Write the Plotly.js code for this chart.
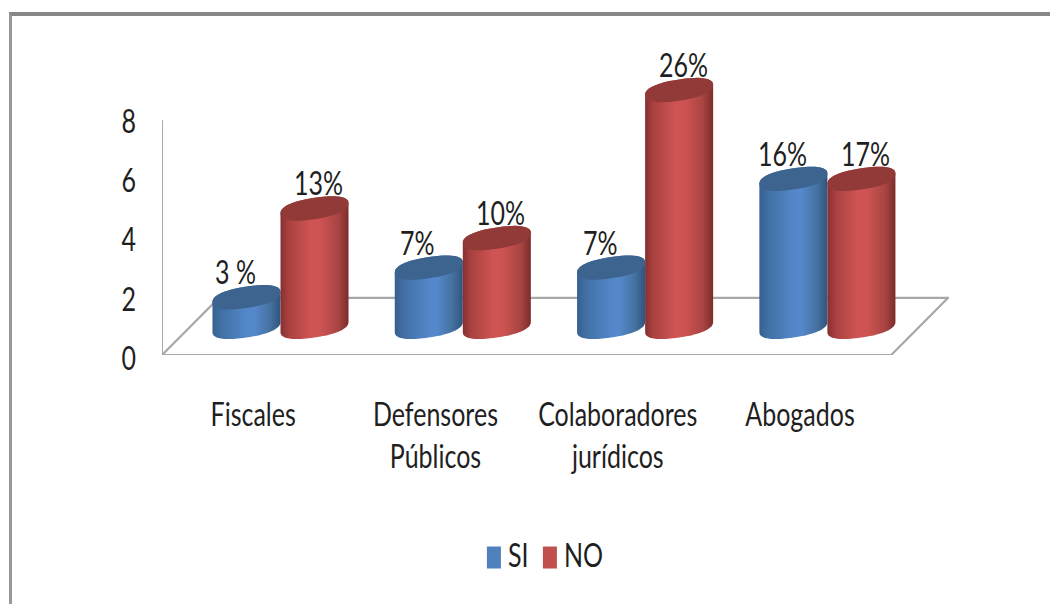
<!DOCTYPE html>
<html>
<head>
<meta charset="utf-8">
<script src="https://cdn.plot.ly/plotly-3.0.0.min.js"></script>
<style>
html,body{margin:0;padding:0;background:#fff;width:1050px;height:604px;overflow:hidden}
#frame{position:absolute;left:9px;top:12px;right:0;bottom:0;border-top:4px solid #878787;border-left:3px solid #999}
#chart{position:absolute;left:0;top:0;width:1050px;height:604px}
</style>
</head>
<body>
<div id="frame"></div>
<div id="chart"></div>
<script>
const categories = ["Fiscales", "Defensores<br>Públicos", "Colaboradores<br>jurídicos", "Abogados"];
const seriesNames = ["SI", "NO"];
const siValues = [1, 2, 2, 5];
const noValues = [4, 3, 8, 5];
const siLabels = ["3 %", "7%", "7%", "16%"];
const noLabels = ["13%", "10%", "26%", "17%"];
const yTicks = [0, 2, 4, 6, 8];

const FONT = 'Lato, "Open Sans", sans-serif';
const FS = 25, YSTRETCH = 1.3;
const TEXT = '#1f1f1f', GRID = '#a8a8a8';
const xShift = 0.15, halfSlot = 0.1866;     // depth shift of the bars, half the pair
const yBase = 0.95, rx = 0.1866;            // floor depth (y units), cylinder half width
const tilt = 0.17, ry = 0.36, rnd = 0.85;   // ellipse tilt, half height and squareness
const floorDX = 0.312, floorDY = 1.93;

const idx = categories.map((_, i) => i);
const barX = idx.map(i => i + xShift);

const spow = (v, p) => Math.sign(v) * Math.pow(Math.abs(v), p);
function ellipsePts(cx, cy, from, to) {
  const pts = [];
  for (let k = 0; k <= 48; k++) {
    const t = from + (to - from) * k / 48;
    const c = spow(Math.cos(t), rnd), s = spow(Math.sin(t), rnd);
    pts.push([cx + rx * c, cy + tilt * c + ry * s]);
  }
  return pts;
}
const toPath = pts => 'M' + pts.map(p => p[0].toFixed(4) + ',' + p[1].toFixed(4)).join(' L') + ' Z';

const shapes = [];
shapes.push({type:'path', layer:'below', xref:'x', yref:'y',
  path: toPath([[-0.5,0],[3.5,0],[3.5+floorDX,floorDY],[-0.5+floorDX,floorDY]]),
  fillcolor:'#fff', line:{color:GRID,width:2.2}});
shapes.push({type:'line', layer:'below', xref:'x', yref:'y', x0:-0.5, x1:-0.5, y0:0, y1:7.93,
  line:{color:GRID,width:2}});

const gradIdx = {};
function addCylinder(cx, v, key, topColor) {
  const top = yBase + v;
  const body = ellipsePts(cx, yBase, Math.PI, 2 * Math.PI)
    .concat(ellipsePts(cx, top, 0, Math.PI));
  gradIdx[shapes.length] = key;
  shapes.push({type:'path', layer:'above', xref:'x', yref:'y', path: toPath(body),
    fillcolor: topColor, line:{width:0}});
  shapes.push({type:'path', layer:'above', xref:'x', yref:'y',
    path: toPath(ellipsePts(cx, top, 0, 2 * Math.PI)),
    fillcolor: topColor, line:{width:0}});
}
idx.forEach(i => {
  addCylinder(barX[i] - halfSlot, siValues[i], 'gradSI', '#3c648f');
  addCylinder(barX[i] + halfSlot, noValues[i], 'gradNO', '#923a38');
});

const annotations = [];
idx.forEach(i => {
  annotations.push({x: barX[i] - halfSlot, y: yBase + siValues[i], xref:'x', yref:'y', text: siLabels[i],
    showarrow:false, xshift:-11, yshift:23, font:{family:FONT,size:FS,color:TEXT}});
  annotations.push({x: barX[i] + halfSlot, y: yBase + noValues[i], xref:'x', yref:'y', text: noLabels[i],
    showarrow:false, xshift:4, yshift:23, font:{family:FONT,size:FS,color:TEXT}});
});

const common = {type:'bar', x: barX, base: yBase, hoverinfo:'skip'};
const traces = [
  Object.assign({}, common, {name: seriesNames[0], y: siValues, marker:{color:'#4f81bd'}}),
  Object.assign({}, common, {name: seriesNames[1], y: noValues, marker:{color:'#c0504d'}})
];

const layout = {
  width:1050, height:604,
  margin:{l:162, r:100.7, t:59, b:249, pad:0},
  paper_bgcolor:'rgba(0,0,0,0)', plot_bgcolor:'rgba(0,0,0,0)',
  barmode:'group', bargap:0.254, bargroupgap:0.3,
  showlegend:true,
  legend:{orientation:'h', x:0.484, xanchor:'center', y:-0.685, yanchor:'middle',
    font:{family:FONT,size:FS,color:TEXT}, bgcolor:'rgba(0,0,0,0)', itemclick:false,
    entrywidth:42, entrywidthmode:'pixels'},
  xaxis:{range:[-0.5,3.5+floorDX+0.005], tickmode:'array', tickvals:idx, ticktext:categories,
    showgrid:false, zeroline:false, showline:false, ticks:'outside', ticklen:40, tickcolor:'rgba(0,0,0,0)',
    tickfont:{family:FONT,size:FS,color:TEXT}, tickangle:0, fixedrange:true},
  yaxis:{range:[0,10], tickmode:'array', tickvals:yTicks, ticktext:yTicks.map(String),
    showgrid:false, zeroline:false, showline:false, ticks:'outside', ticklen:20, tickcolor:'rgba(0,0,0,0)',
    tickfont:{family:FONT,size:FS,color:TEXT}, fixedrange:true},
  shapes, annotations
};

Plotly.newPlot('chart', traces, layout, {displayModeBar:false, staticPlot:true}).then(gd => {
  const svg = gd.querySelector('.main-svg');
  const NS = 'http://www.w3.org/2000/svg';
  let defs = svg.querySelector('defs');
  const stopsFor = {
    gradSI: [[0,'#36608f'],[0.12,'#416fa3'],[0.5,'#5387c9'],[0.62,'#5588cb'],[0.85,'#44719f'],[1,'#2f5580']],
    gradNO: [[0,'#853030'],[0.12,'#a94140'],[0.45,'#cf5554'],[0.6,'#cc5351'],[0.85,'#a84442'],[1,'#7d2c2b']]
  };
  Object.keys(stopsFor).forEach(id => {
    const g = document.createElementNS(NS,'linearGradient');
    g.setAttribute('id',id); g.setAttribute('x1','0'); g.setAttribute('x2','1');
    g.setAttribute('y1','0'); g.setAttribute('y2','0');
    stopsFor[id].forEach(s => {
      const st = document.createElementNS(NS,'stop');
      st.setAttribute('offset',s[0]); st.setAttribute('stop-color',s[1]);
      g.appendChild(st);
    });
    defs.appendChild(g);
  });
  gd.querySelectorAll('.shapelayer path').forEach(p => {
    const key = gradIdx[p.getAttribute('data-index')];
    if (key) p.style.fill = 'url(#' + key + ')';
  });
  // the reference's lettering is stretched vertically: stretch about each baseline
  const stretch = (sel, dx, dy) => gd.querySelectorAll(sel).forEach(t => {
    const y = parseFloat(t.getAttribute('y')) || 0;
    const prev = t.getAttribute('transform') || '';
    t.setAttribute('transform', prev + ' translate(' + dx + ',' + (y + dy) + ') scale(1,' + YSTRETCH + ') translate(0,' + (-y) + ')');
  });
  stretch('.xtick text', 0, 0);
  stretch('.ytick text', 0, 6);
  stretch('.annotation-text', 0, 0);
  stretch('.legendtext', -6, 0);
  // taller legend swatches, tighter entries, as in the reference
  gd.querySelectorAll('.legendbar, .legendundefined').forEach(p => p.setAttribute('d','M7,11H-7V-11H7Z'));
  const clip = gd.querySelector('.legend .scrollbox');
  if (clip) clip.removeAttribute('clip-path');
  gd.querySelectorAll('.legend .groups .traces').forEach((g, i) => {
    g.setAttribute('transform', (g.getAttribute('transform') || '') + ' translate(' + (i ? -13 : 18) + ',0)');
  });
});
</script>
</body>
</html>
